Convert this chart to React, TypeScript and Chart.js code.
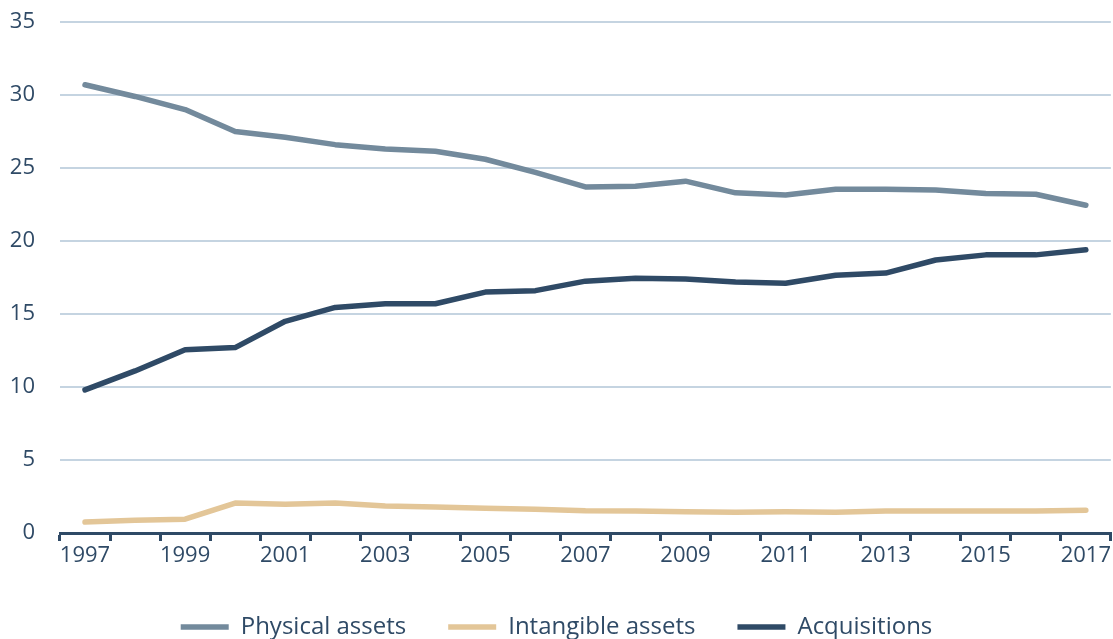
import React, { useEffect, useRef } from "react";
import { Chart, registerables } from "chart.js";

Chart.register(...registerables);

const years = ["1997","1998","1999","2000","2001","2002","2003","2004","2005","2006","2007","2008","2009","2010","2011","2012","2013","2014","2015","2016","2017"];
const physicalAssets = [30.7,29.9,29.0,27.5,27.1,26.6,26.3,26.15,25.6,24.7,23.7,23.75,24.1,23.3,23.15,23.55,23.55,23.5,23.25,23.2,22.45];
const intangibleAssets = [0.75,0.88,0.95,2.05,1.97,2.05,1.85,1.78,1.7,1.62,1.52,1.5,1.45,1.42,1.45,1.42,1.5,1.5,1.5,1.5,1.55];
const acquisitions = [9.8,11.1,12.55,12.7,14.5,15.45,15.7,15.7,16.5,16.6,17.25,17.45,17.4,17.2,17.1,17.65,17.8,18.7,19.05,19.05,19.4];

const NAVY = "#2F4A66";
const FONT = "'Open Sans', sans-serif";

export default function App() {
  const ref = useRef<HTMLCanvasElement>(null);
  useEffect(() => {
    document.body.style.margin = "0";
    const mk = (label: string, data: number[], color: string) => ({
      label, data, borderColor: color, backgroundColor: color,
      borderWidth: 5.5, pointRadius: 0, borderCapStyle: "round" as const,
      borderJoinStyle: "round" as const, tension: 0, fill: false,
    });
    const chart = new Chart(ref.current!, {
      type: "line",
      data: {
        labels: years,
        datasets: [
          mk("Physical assets", physicalAssets, "#738A9C"),
          mk("Intangible assets", intangibleAssets, "#E3C698"),
          mk("Acquisitions", acquisitions, NAVY),
        ],
      },
      options: {
        animation: false,
        responsive: false,
        layout: { padding: { top: 22, bottom: -10, right: 0, left: 0 } },
        plugins: {
          tooltip: { enabled: false },
          legend: {
            position: "bottom",
            labels: {
              usePointStyle: true,
              pointStyle: "line",
              pointStyleWidth: 48,
              boxHeight: 6,
              padding: 42,
              color: NAVY,
              font: { family: FONT, size: 24 },
            },
          },
        },
        scales: {
          x: {
            offset: true,
            afterFit: (s: any) => { s.height = 40; },
            grid: { offset: true, drawOnChartArea: false, drawTicks: true, tickLength: 8, color: NAVY, lineWidth: 3 },
            border: { display: true, color: NAVY, width: 3 },
            ticks: {
              autoSkip: false, maxRotation: 0, color: NAVY, padding: 2,
              font: { family: FONT, size: 22 },
              callback: (_v: any, i: number) => (i % 2 === 0 ? years[i] : ""),
            },
          },
          y: {
            min: 0, max: 35,
            afterFit: (s: any) => { s.width = 60; },
            grid: { color: "#C5D4E1", lineWidth: 2, drawTicks: true, tickLength: 25, tickColor: "rgba(0,0,0,0)" },
            border: { display: false },
            ticks: { stepSize: 5, color: NAVY, padding: 0, font: { family: FONT, size: 22 } },
          },
        },
      },
    });
    return () => chart.destroy();
  }, []);
  return <canvas ref={ref} width={1113} height={639} style={{ display: "block" }} />;
}
